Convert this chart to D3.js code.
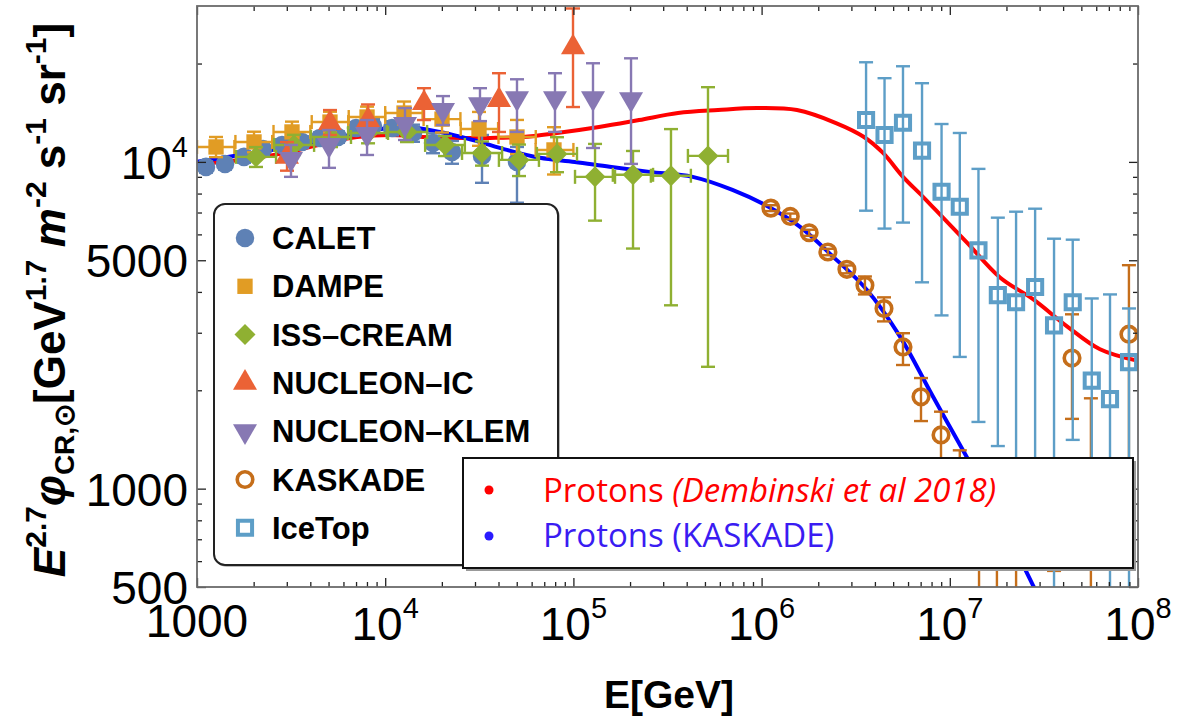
<!DOCTYPE html>
<html lang="en">
<head>
<meta charset="UTF-8">
<title>Proton flux E^2.7</title>
<script src="https://d3js.org/d3.v7.min.js"></script>
<style>
  body { margin: 0; background: #fff; }
  svg { display: block; font-family: "Liberation Sans", Arial, sans-serif; }
</style>
</head>
<body>
<svg id="chart" width="1178" height="717"></svg>
<script>
// ---- values: E [GeV], flux = E^2.7 phi, error bar ends ----
const calE    = [1116, 1409, 1777, 2242, 2829, 3613, 4504, 5613, 6996, 8613, 10870, 14050, 17950, 22640, 32690, 50150];
const calF    = [9655, 9860, 10360, 10950, 11270, 11510, 11840, 11920, 12690, 12880, 12690, 12260, 11430, 10730, 10430, 10000];
const calLo   = [9270, 9470, 9940, 10510, 10820, 11050, 11370, 11440, 12180, 12240, 12050, 11520, 10630, 9870, 8630, 7500];
const calHi   = [10040, 10250, 10770, 11390, 11720, 11970, 12310, 12400, 13200, 13520, 13320, 13000, 12230, 11590, 12090, 11110];

const damE    = [1262, 2009, 3197, 5089, 8008, 12590, 20040, 31510, 50150, 78850];
const damF    = [11110, 11510, 12350, 13240, 13720, 14110, 13520, 12610, 11920, 10880];
const damLo   = [10340, 10700, 11480, 12300, 12750, 13000, 12300, 11200, 10570, 9150];
const damHi   = [11920, 12370, 13280, 14240, 14760, 15300, 14850, 14220, 13440, 12770];
const damElo  = [1000, 1600, 2550, 4070, 6400, 10000, 16000, 25200, 40000, 63000];
const damEhi  = [1580, 2510, 4000, 6360, 10000, 15800, 25100, 39800, 63100, 100000];

const issE    = [2058, 3277, 5152, 8106, 13060, 20780, 32690, 51390, 81800, 130300, 207400, 330000, 519000];
const issF    = [10360, 11270, 11920, 12260, 12350, 11270, 10650, 10140, 10580, 9000, 9130, 9070, 10430];
const issLo   = [9650, 10500, 11100, 11400, 11500, 10420, 9740, 9050, 9300, 6610, 5430, 3640, 2360];
const issHi   = [11100, 12100, 12800, 13150, 13250, 12000, 11550, 11300, 11900, 11350, 10800, 12600, 16930];
const issElo  = [1610, 2570, 4030, 6350, 10200, 16300, 25600, 40200, 64000, 102000, 162000, 258000, 406000];
const issEhi  = [2630, 4190, 6580, 10350, 16700, 26500, 41800, 65600, 104500, 166400, 265000, 421000, 663000];

const icE     = [3008, 5089, 8106, 16080, 40240, 99520];
const icF     = [10360, 13150, 13430, 15130, 15460, 22420];
const icLo    = [9400, 12090, 12090, 13430, 12350, 14720];
const icHi    = [11500, 14410, 14990, 16810, 18680, 29480];

const klE     = [3159, 5028, 8008, 12740, 20280, 31890, 50150, 79830, 127100, 202400];
const klF     = [10210, 11270, 12170, 13060, 14410, 15030, 15670, 15670, 15670, 15560];
const klLo    = [9000, 9590, 10500, 11670, 12970, 13330, 12350, 12350, 11030, 9860];
const klHi    = [11270, 12520, 13430, 14610, 15900, 16810, 17900, 18680, 20040, 20750];

const kasE    = [1.12e6, 1.42e6, 1.79e6, 2.25e6, 2.84e6, 3.54e6, 4.47e6, 5.64e6, 7.03e6, 8.98e6, 1.13e7, 1.43e7, 1.78e7, 2.25e7, 3.58e7, 4.46e7, 5.62e7, 8.95e7];
const kasF    = [7220, 6810, 6070, 5300, 4690, 4190, 3560, 2715, 1910, 1460, 1040, 870, 810, 755, 810, 2510, 870, 2970];
const kasLo   = [7070, 6670, 5940, 5180, 4560, 3930, 3250, 2390, 1610, 1150, 950, 200, 200, 200, 560, 1635, 200, 1083];
const kasHi   = [7370, 6950, 6200, 5420, 4820, 4460, 3850, 2990, 2180, 1720, 1310, 1000, 1000, 1000, 1150, 3416, 1890, 4829];

const iceE    = [3.59e6, 4.50e6, 5.64e6, 7.12e6, 9.04e6, 1.13e7, 1.42e7, 1.80e7, 2.25e7, 2.84e7, 3.58e7, 4.50e7, 5.68e7, 7.10e7, 8.96e7];
const iceF    = [13430, 12090, 13180, 10830, 8100, 7290, 5360, 3910, 3720, 4140, 3160, 3720, 2140, 1880, 2440];
const iceLo   = [7090, 6250, 6520, 4280, 3390, 2530, 1600, 1350, 900, 900, 200, 1410, 900, 200, 200];
const iceHi   = [20180, 18040, 19620, 17410, 13060, 12260, 9520, 6750, 7040, 7190, 5820, 5780, 3820, 3930, 3560];

// model curves
const dembE   = [1000, 1692, 3121, 5090, 7083, 10600, 15880, 24070, 36060, 53980, 81830, 136800, 223200, 359600, 586600, 945400, 1.542e6, 2.485e6, 3.50e6, 4.418e6, 5.641e6, 7.204e6, 9.202e6, 1.234e7, 1.848e7, 2.767e7, 4.195e7, 6.283e7, 1e8];
const dembF   = [9860, 10140, 10730, 11510, 11920, 12090, 11920, 11840, 11840, 11920, 12260, 12790, 13430, 14110, 14410, 14610, 14410, 13150, 11920, 10650, 9000, 7820, 6750, 5660, 4430, 3800, 3140, 2670, 2460];
const kfitE   = [1000, 1692, 3121, 5748, 8630, 13060, 19550, 29250, 44310, 66290, 101700, 155700, 254000, 430000, 700000, 1.064e6, 1.595e6, 2.396e6, 3.61e6, 5.42e6, 8.11e6, 1.22e7, 1.848e7, 2.767e7, 3.85e7];
const kfitF   = [10000, 10500, 11110, 11920, 12520, 12790, 12350, 11670, 10880, 10290, 10000, 9660, 9320, 9000, 8210, 7340, 6340, 5130, 4070, 2930, 1920, 1260, 810, 506, 349];

// ticks
const xMajor = [1e3, 1e4, 1e5, 1e6, 1e7, 1e8];
const yMajor = [500, 1000, 5000, 10000];
const yMinor = [600, 700, 800, 900, 2000, 3000, 4000, 6000, 7000, 8000, 9000, 20000];
const legendNames = ['CALET', 'DAMPE', 'ISS–CREAM', 'NUCLEON–IC', 'NUCLEON–KLEM', 'KASKADE', 'IceTop'];

const xMinor = [];
for (let p = 3; p < 8; p++) for (let k = 2; k < 10; k++) xMinor.push(k * Math.pow(10, p));

// ---- layout ----
const svg = d3.select('#chart');
const m = { left: 197, right: 1138, top: 6, bottom: 587 };
const x = d3.scaleLog().domain([1000, 1e8]).range([m.left, m.right]);
const y = d3.scaleLog().domain([500, 30000]).range([m.bottom, m.top]);

svg.append('defs').append('clipPath').attr('id', 'plotClip').append('rect')
  .attr('x', m.left).attr('y', m.top)
  .attr('width', m.right - m.left).attr('height', m.bottom - m.top);

const plot = svg.append('g').attr('clip-path', 'url(#plotClip)');

// model lines
const line = d3.line().x(d => x(d[0])).y(d => y(d[1])).curve(d3.curveCatmullRom.alpha(0.5));
plot.append('path').datum(d3.zip(dembE, dembF)).attr('d', line)
  .attr('fill', 'none').attr('stroke', '#ff0000').attr('stroke-width', 4);
plot.append('path').datum(d3.zip(kfitE, kfitF)).attr('d', line)
  .attr('fill', 'none').attr('stroke', '#0000ff').attr('stroke-width', 4);

// data series
const series = [
  { color: '#5e81b5', shape: 'circle',  E: calE, F: calF, lo: calLo, hi: calHi },
  { color: '#e19c24', shape: 'square',  E: damE, F: damF, lo: damLo, hi: damHi, elo: damElo, ehi: damEhi },
  { color: '#8fb032', shape: 'diamond', E: issE, F: issF, lo: issLo, hi: issHi, elo: issElo, ehi: issEhi },
  { color: '#eb6235', shape: 'up',      E: icE,  F: icF,  lo: icLo,  hi: icHi },
  { color: '#8778b3', shape: 'down',    E: klE,  F: klF,  lo: klLo,  hi: klHi },
  { color: '#c56e1a', shape: 'ocircle', E: kasE, F: kasF, lo: kasLo, hi: kasHi },
  { color: '#5d9ec7', shape: 'osquare', E: iceE, F: iceF, lo: iceLo, hi: iceHi }
];

function marker(sel, shape, color) {
  const sym = d3.symbol();
  if (shape === 'circle') sel.attr('d', sym.type(d3.symbolCircle).size(270)()).attr('fill', color);
  if (shape === 'square') sel.attr('d', sym.type(d3.symbolSquare).size(235)()).attr('fill', color);
  if (shape === 'diamond') sel.attr('d', sym.type(d3.symbolSquare).size(220)()).attr('fill', color).attr('data-rot', 45);
  if (shape === 'up') sel.attr('d', sym.type(d3.symbolTriangle).size(250)()).attr('fill', color);
  if (shape === 'down') sel.attr('d', sym.type(d3.symbolTriangle).size(250)()).attr('fill', color).attr('data-rot', 180);
  if (shape === 'ocircle') sel.attr('d', sym.type(d3.symbolCircle).size(190)()).attr('fill', 'none')
    .attr('stroke', color).attr('stroke-width', 3.6);
  if (shape === 'osquare') sel.attr('d', sym.type(d3.symbolSquare).size(200)()).attr('fill', 'none')
    .attr('stroke', color).attr('stroke-width', 4);
}

const cap = 7;
series.forEach(s => {
  const pts = s.E.map((e, i) => ({
    e, f: s.F[i], lo: s.lo[i], hi: s.hi[i],
    elo: s.elo ? s.elo[i] : null, ehi: s.ehi ? s.ehi[i] : null
  }));
  const g = plot.append('g').attr('stroke', s.color).attr('stroke-width', 2.4);

  // vertical error bars with caps
  g.selectAll('.v').data(pts).join('line').attr('class', 'v')
    .attr('x1', d => x(d.e)).attr('x2', d => x(d.e))
    .attr('y1', d => y(d.lo)).attr('y2', d => y(d.hi));
  ['lo', 'hi'].forEach(k => {
    g.selectAll('.c' + k).data(pts).join('line').attr('class', 'c' + k)
      .attr('x1', d => x(d.e) - cap).attr('x2', d => x(d.e) + cap)
      .attr('y1', d => y(d[k])).attr('y2', d => y(d[k]));
  });

  // horizontal bars (bin widths)
  if (s.elo) {
    g.selectAll('.h').data(pts).join('line').attr('class', 'h')
      .attr('x1', d => x(d.elo)).attr('x2', d => x(d.ehi))
      .attr('y1', d => y(d.f)).attr('y2', d => y(d.f));
    ['elo', 'ehi'].forEach(k => {
      g.selectAll('.c' + k).data(pts).join('line').attr('class', 'c' + k)
        .attr('x1', d => x(d[k])).attr('x2', d => x(d[k]))
        .attr('y1', d => y(d.f) - cap).attr('y2', d => y(d.f) + cap);
    });
  }

  plot.append('g').selectAll('path').data(pts).join('path')
    .call(marker, s.shape, s.color)
    .attr('transform', function (d) {
      const r = this.getAttribute('data-rot') || 0;
      return `translate(${x(d.e)},${y(d.f)}) rotate(${r})`;
    });
});

// ---- frame and ticks ----
const tickStyle = g => g.selectAll('.tick line').attr('stroke', '#222').attr('stroke-width', 1.3);
const noDomain = g => g.select('.domain').remove();

function frameAxis(axis, tx, ty, values, size) {
  svg.append('g').attr('transform', `translate(${tx},${ty})`)
    .call(axis.tickValues(values).tickSize(size).tickFormat(''))
    .call(noDomain).call(tickStyle);
}
frameAxis(d3.axisBottom(x), 0, m.bottom, xMajor, -9);
frameAxis(d3.axisBottom(x), 0, m.bottom, xMinor, -5);
frameAxis(d3.axisTop(x), 0, m.top, xMajor, -9);
frameAxis(d3.axisTop(x), 0, m.top, xMinor, -5);
frameAxis(d3.axisLeft(y), m.left, 0, yMajor, -9);
frameAxis(d3.axisLeft(y), m.left, 0, yMinor, -5);
frameAxis(d3.axisRight(y), m.right, 0, yMajor, -9);
frameAxis(d3.axisRight(y), m.right, 0, yMinor, -5);

svg.append('rect').attr('x', m.left).attr('y', m.top)
  .attr('width', m.right - m.left).attr('height', m.bottom - m.top)
  .attr('fill', 'none').attr('stroke', '#6b6b6b').attr('stroke-width', 1.8);

// tick labels
function powLabel(t, v) {
  const p = Math.round(Math.log10(v));
  if (p === 3) { t.text('1000'); return; }
  t.append('tspan').text('10');
  t.append('tspan').attr('font-size', '29px').attr('dy', -22).text(p);
}
xMajor.forEach(v => {
  const t = svg.append('text').attr('x', x(v)).attr('y', v === 1000 ? m.bottom + 50 : m.bottom + 53)
    .attr('text-anchor', 'middle').attr('font-size', '46px').attr('fill', '#000');
  powLabel(t, v);
});
yMajor.forEach(v => {
  const t = svg.append('text').attr('x', 188).attr('y', y(v) + 17)
    .attr('text-anchor', 'end').attr('font-size', '46px').attr('fill', '#000');
  if (v === 10000) powLabel(t, v); else t.text(v);
});

// axis titles
svg.append('text').attr('x', 669).attr('y', 708).attr('text-anchor', 'middle')
  .attr('font-size', '39px').attr('font-weight', 'bold').text('E[GeV]');

const yl = svg.append('text').attr('transform', 'translate(65,300) rotate(-90)')
  .attr('text-anchor', 'middle').attr('font-size', '44px').attr('font-weight', 'bold');
const parts = [
  ['E', 'i'], ['2.7', 'sup'], ['φ', 'i'], ['CR,⊙', 'sub'], ['[GeV', ''], ['1.7', 'sup'],
  [' m', 'i'], ['-2', 'sup'], [' s', ''], ['-1', 'sup'], [' sr', ''], ['-1', 'sup'], [']', '']
];
let shift = 0;
parts.forEach(([txt, kind]) => {
  const target = kind === 'sup' ? -19 : kind === 'sub' ? 9 : 0;
  const ts = yl.append('tspan').attr('dy', target - shift).text(txt);
  shift = target;
  if (kind === 'i') ts.attr('font-style', 'italic');
  if (kind === 'sup') ts.attr('font-size', '30px');
  if (kind === 'sub') ts.attr('font-size', '28px');
});

// ---- legend with markers ----
const lg = svg.append('g');
lg.append('rect').attr('x', 216).attr('y', 206).attr('width', 344).attr('height', 361).attr('rx', 11)
  .attr('fill', '#bbb');
lg.append('rect').attr('x', 214).attr('y', 204).attr('width', 344).attr('height', 361).attr('rx', 11)
  .attr('fill', '#fff').attr('stroke', '#222').attr('stroke-width', 2);
legendNames.forEach((name, i) => {
  const cy = 238 + i * 48.3;
  lg.append('path').call(marker, series[i].shape, series[i].color)
    .attr('transform', function () {
      return `translate(245,${cy}) rotate(${this.getAttribute('data-rot') || 0})`;
    });
  lg.append('text').attr('x', 272).attr('y', cy + 11).attr('font-size', '31px')
    .attr('font-weight', 'bold').text(name);
});

// ---- legend for model curves ----
const l2 = svg.append('g');
l2.append('rect').attr('x', 466).attr('y', 461).attr('width', 670).attr('height', 110).attr('fill', '#999');
l2.append('rect').attr('x', 463).attr('y', 458).attr('width', 670).attr('height', 110)
  .attr('fill', '#fff').attr('stroke', '#111').attr('stroke-width', 2);
l2.append('circle').attr('cx', 489).attr('cy', 490).attr('r', 4.5).attr('fill', '#ff0000');
l2.append('circle').attr('cx', 489).attr('cy', 536).attr('r', 4.5).attr('fill', '#2a1bff');
const t1 = l2.append('text').attr('x', 543).attr('y', 502).attr('font-family', '"Open Sans", sans-serif')
  .attr('font-size', '33px').attr('fill', '#ff0000');
t1.append('tspan').text('Protons ');
t1.append('tspan').attr('font-style', 'italic').text('(Dembinski et al 2018)');
l2.append('text').attr('x', 543).attr('y', 547).attr('font-family', '"Open Sans", sans-serif')
  .attr('font-size', '33px').attr('fill', '#3a1cf2').text('Protons (KASKADE)');
</script>
</body>
</html>
